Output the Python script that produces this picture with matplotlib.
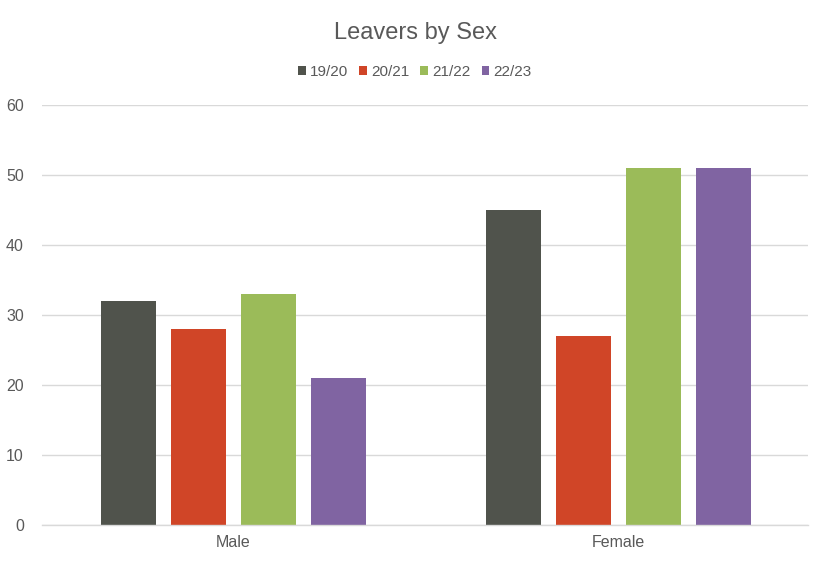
import numpy as np
import matplotlib.pyplot as plt

plt.rcParams['font.family'] = ['Liberation Sans', 'DejaVu Sans']

categories = ['Male', 'Female']
years = ['19/20', '20/21', '21/22', '22/23']
values = {
    '19/20': [32, 45],
    '20/21': [28, 27],
    '21/22': [33, 51],
    '22/23': [21, 51],
}
colors = ['#50534C', '#D04527', '#9BBB59', '#8064A2']

fig = plt.figure(figsize=(8.3, 5.61), dpi=100)
ax = fig.add_axes([42 / 830, 36 / 561, 766 / 830, 420 / 561])

x = np.arange(len(categories))
width = 0.1429
step = 0.1818
for i, yr in enumerate(years):
    offset = (i - 1.5) * step
    ax.bar(x + offset, values[yr], width, color=colors[i], label=yr, zorder=3)

ax.set_xlim(-0.497, 1.492)
ax.set_ylim(0, 60)
ax.set_yticks(range(0, 61, 10))
ax.set_xticks(x)
ax.set_xticklabels(categories)
ax.grid(axis='y', color='#D9D9D9', linewidth=1, zorder=0)
ax.axhline(0, color='#D9D9D9', linewidth=1, zorder=4, clip_on=False)
for s in ax.spines.values():
    s.set_visible(False)
ax.tick_params(axis='both', length=0, colors='#595959', labelsize=11.5)
ax.tick_params(axis='y', pad=13)
ax.tick_params(axis='x', pad=7)

fig.text(0.5, 1 - 33 / 561, 'Leavers by Sex', ha='center', va='center',
         fontsize=17, color='#595959')
fig.legend(loc='center', bbox_to_anchor=(0.5, 1 - 72 / 561), ncol=4, frameon=False,
           handlelength=0.5, handleheight=0.5, handletextpad=0.3, columnspacing=0.7,
           fontsize=11, labelcolor='#595959')

fig.savefig('out.png', dpi=100)
